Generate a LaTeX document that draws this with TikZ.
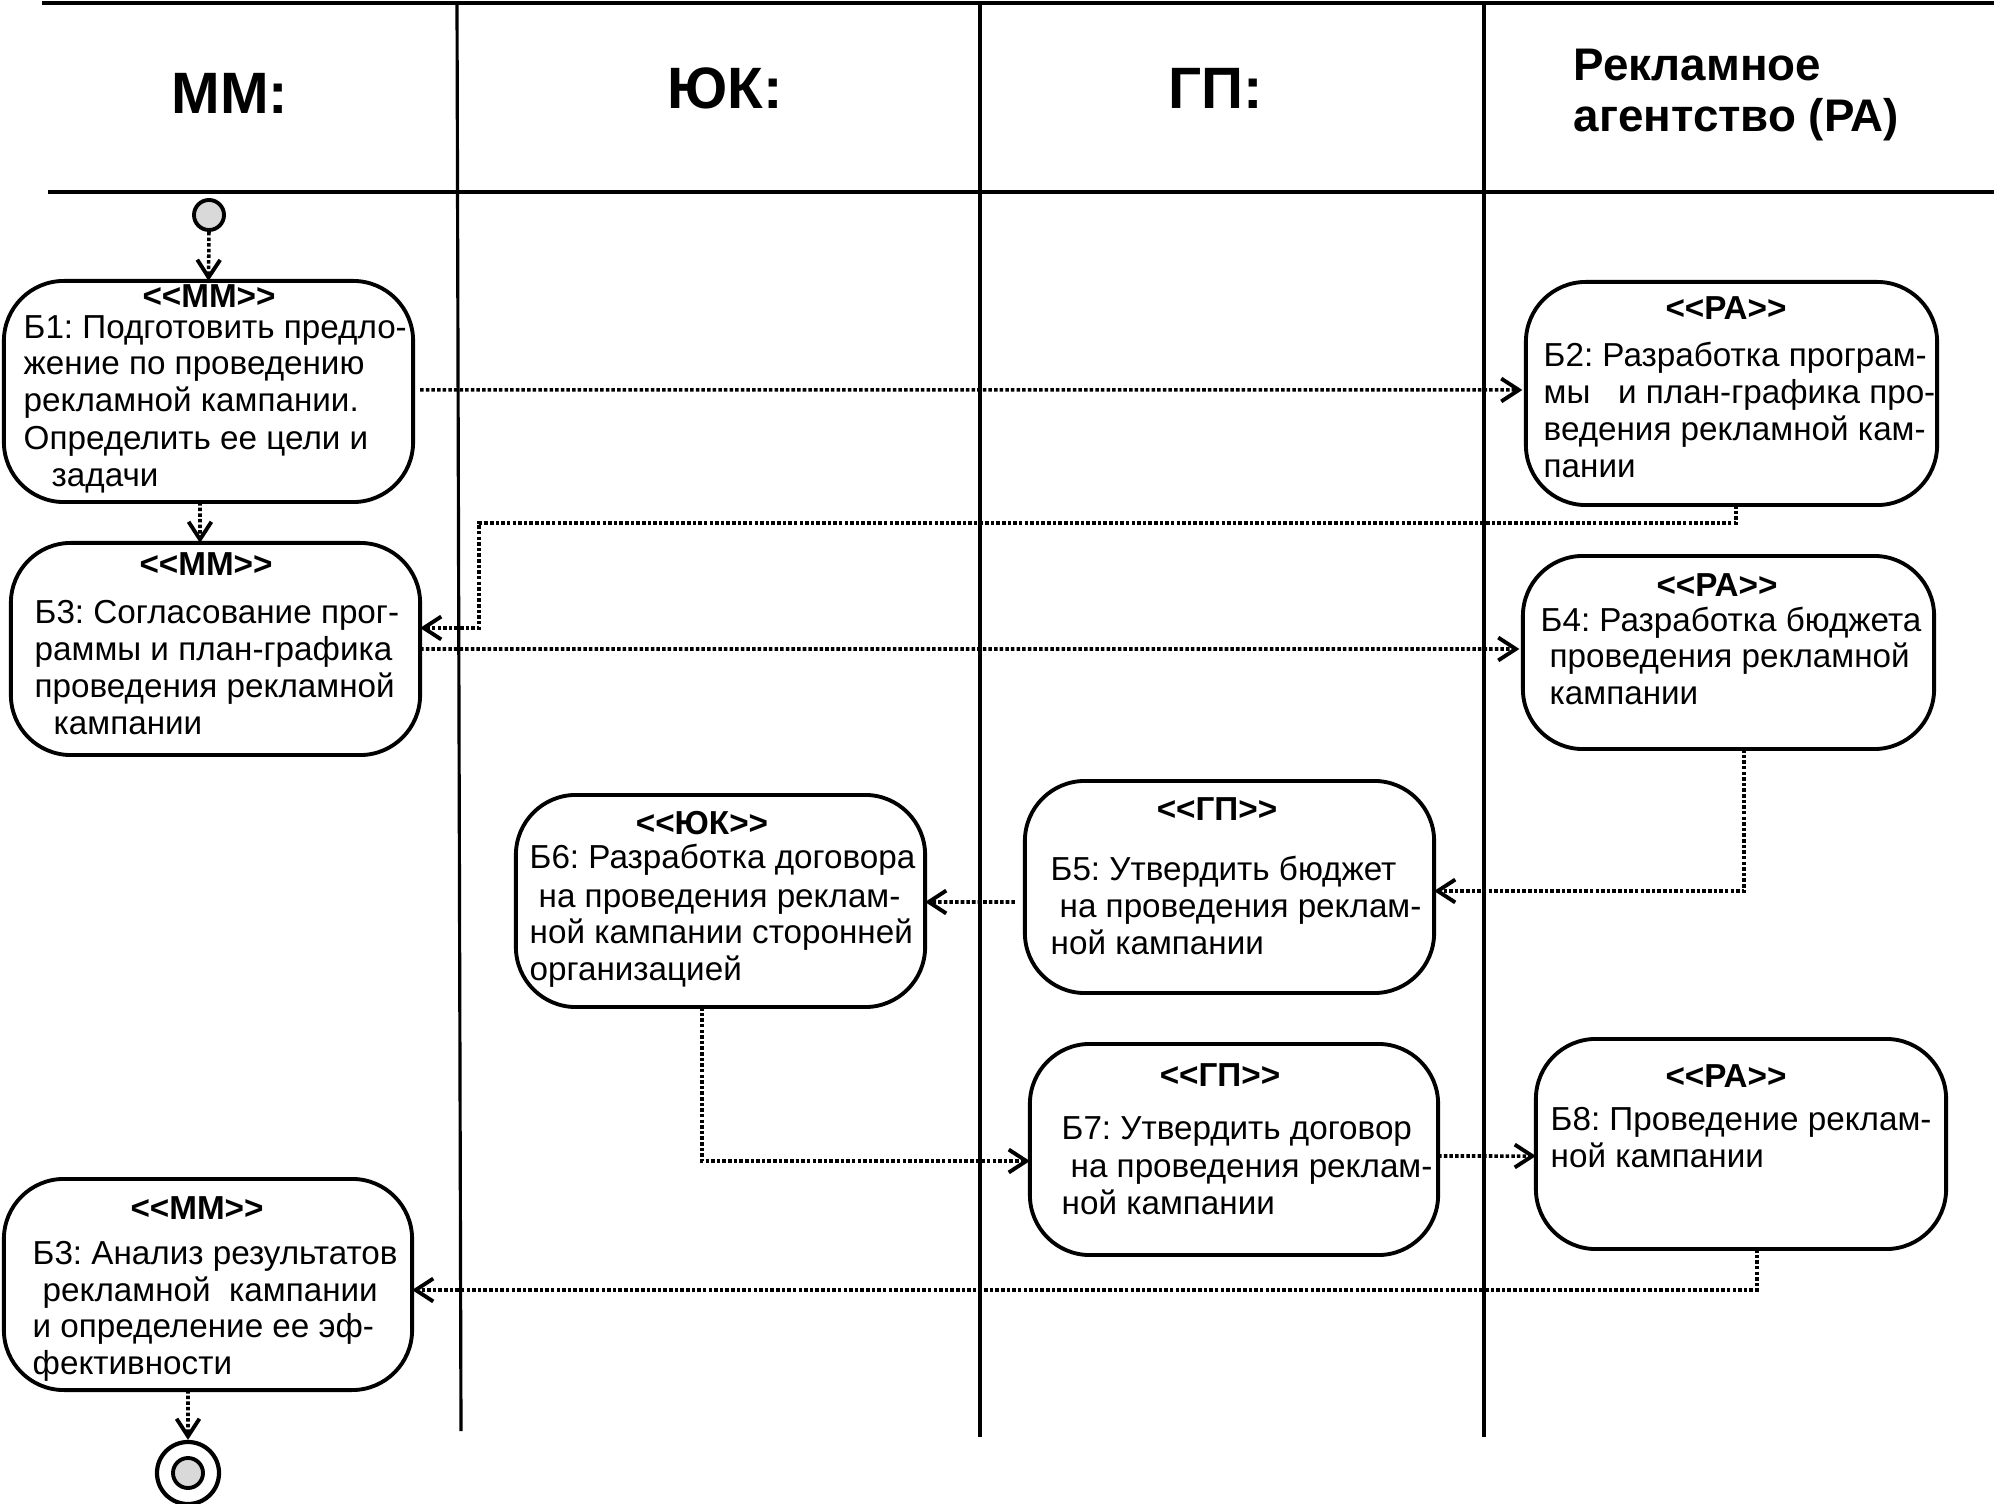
\documentclass[tikz,border=0pt]{standalone}
\usepackage{fontspec}
\newfontfamily\af{Liberation Sans}
\usetikzlibrary{arrows.meta}
\frenchspacing
\tikzset{
  box/.style={draw, line width=1.1pt, rounded corners=0.6cm, inner sep=0pt, outer sep=0pt},
  flow/.style={draw, line width=1pt, dash pattern=on 1pt off 0.6pt,
    -{Straight Barb[length=5pt,width=6.5pt,line width=1.1pt]}},
  lane/.style={line width=0.9pt},
  hline/.style={line width=1.3pt},
  tx/.style={anchor=base west, inner sep=0pt, font=\af\fontsize{9.45pt}{11pt}\selectfont},
  st/.style={anchor=base, inner sep=0pt, font=\af\bfseries\fontsize{9.45pt}{11pt}\selectfont},
  hd/.style={anchor=base, inner sep=0pt, font=\af\bfseries\fontsize{16.6pt}{19pt}\selectfont},
  hdr/.style={anchor=base west, inner sep=0pt, font=\af\bfseries\fontsize{13pt}{16pt}\selectfont},
}
\newcommand{\stt}[1]{\textless\textless#1\textgreater\textgreater}
\begin{document}
\begin{tikzpicture}[x=0.01cm, y=-0.01cm]
\useasboundingbox (0,0) rectangle (1994,1504);
% swimlane frame
\draw[hline] (42,3) -- (1994,3);
\draw[hline] (48,192) -- (1994,192);
\draw[lane] (457,3) -- (461,1431);
\draw[lane] (980,3) -- (980,1437);
\draw[lane] (1484,3) -- (1484,1437);
% headers
\node[hd] (h1) at (230,114) {ММ:};
\node[hd] (h2) at (725,109) {ЮК:};
\node[hd] (h3) at (1216,109) {ГП:};
\node[hdr] (h4a) at (1573,81) {Рекламное};
\node[hdr] (h4b) at (1573,132) {агентство (РА)};
% start / end
\node[circle, draw, line width=1.1pt, fill=black!15, minimum size=0.3cm, inner sep=0pt] (start) at (209,215) {};
\node[circle, draw, line width=1.2pt, minimum size=0.62cm, inner sep=0pt] (endc) at (188,1473) {};
\node[circle, draw, line width=1.1pt, fill=black!15, minimum size=0.3cm, inner sep=0pt] (endi) at (188,1473) {};
% boxes
\node[box, minimum width=4.09cm, minimum height=2.21cm] (b1) at (208.5,391.5) {};
\node[box, minimum width=4.11cm, minimum height=2.23cm] (b2) at (1731.5,393.5) {};
\node[box, minimum width=4.09cm, minimum height=2.12cm] (b3) at (215.5,649) {};
\node[box, minimum width=4.11cm, minimum height=1.93cm] (b4) at (1728.5,652.5) {};
\node[box, minimum width=4.09cm, minimum height=2.12cm] (b5) at (1229.5,887) {};
\node[box, minimum width=4.09cm, minimum height=2.12cm] (b6) at (720.5,901) {};
\node[box, minimum width=4.08cm, minimum height=2.11cm] (b7) at (1234,1149.5) {};
\node[box, minimum width=4.10cm, minimum height=2.10cm] (b8) at (1741,1144) {};
\node[box, minimum width=4.08cm, minimum height=2.11cm] (b9) at (208,1284.5) {};
% B1
\node[st] (s1) at (209,308) {\stt{ММ}};
\node[tx] (t1a) at (23,339) {Б1: Подготовить предло-};
\node[tx] (t1b) at (23,375) {жение по проведению};
\node[tx] (t1c) at (23,412) {рекламной кампании.};
\node[tx] (t1d) at (23,450) {Определить ее цели и};
\node[tx] (t1e) at (51,487) {задачи};
% B2
\node[st] (s2) at (1726,320) {\stt{РА}};
\node[tx] (t2a) at (1543,367) {Б2: Разработка програм-};
\node[tx] (t2b) at (1543,404) {мы\ \ \ и план-графика про-};
\node[tx] (t2c) at (1543,441) {ведения рекламной кам-};
\node[tx] (t2d) at (1543,478) {пании};
% B3
\node[st] (s3) at (206,576) {\stt{ММ}};
\node[tx] (t3a) at (34,624) {Б3: Согласование прог-};
\node[tx] (t3b) at (34,661) {раммы и план-графика};
\node[tx] (t3c) at (34,698) {проведения рекламной};
\node[tx] (t3d) at (53,735) {кампании};
% B4
\node[st] (s4) at (1717,597) {\stt{РА}};
\node[tx] (t4a) at (1540,632) {Б4: Разработка бюджета};
\node[tx] (t4b) at (1549,668) {проведения рекламной};
\node[tx] (t4c) at (1549,705) {кампании};
% B5
\node[st] (s5) at (1217,821) {\stt{ГП}};
\node[tx] (t5a) at (1050,880) {Б5: Утвердить бюджет};
\node[tx] (t5b) at (1059,918) {на проведения реклам-};
\node[tx] (t5c) at (1050,955) {ной кампании};
% B6
\node[st] (s6) at (702,835) {\stt{ЮК}};
\node[tx] (t6a) at (529,869) {Б6: Разработка договора};
\node[tx] (t6b) at (538,908) {на проведения реклам-};
\node[tx] (t6c) at (529,944) {ной кампании сторонней};
\node[tx] (t6d) at (529,981) {организацией};
% B7
\node[st] (s7) at (1220,1086) {\stt{ГП}};
\node[tx] (t7a) at (1061,1139) {Б7: Утвердить договор};
\node[tx] (t7b) at (1070,1177) {на проведения реклам-};
\node[tx] (t7c) at (1061,1214) {ной кампании};
% B8
\node[st] (s8) at (1726,1087) {\stt{РА}};
\node[tx] (t8a) at (1550,1130) {Б8: Проведение реклам-};
\node[tx] (t8b) at (1550,1167) {ной кампании};
% B9
\node[st] (s9) at (197,1219) {\stt{ММ}};
\node[tx] (t9a) at (32,1264) {Б3: Анализ результатов};
\node[tx] (t9b) at (42,1301) {рекламной\ \ кампании};
\node[tx] (t9c) at (32,1337) {и определение ее эф-};
\node[tx] (t9d) at (32,1374) {фективности};
% connectors
\coordinate (c1) at (479,523);
\draw[flow] (start.south) -- (b1.north);
\draw[flow, shorten <=0.7mm, shorten >=1pt] ([yshift=0.015cm]b1.east) -- ([yshift=0.035cm]b2.west);
\draw[flow] ([xshift=-0.085cm]b1.south) -- ([xshift=-0.155cm]b3.north);
\draw[flow] ([xshift=0.045cm]b2.south) |- (c1) |- ([yshift=0.21cm]b3.east);
\draw[flow, shorten >=1pt] (b3.east) -- ([yshift=0.035cm]b4.west);
\draw[flow] ([xshift=0.155cm]b4.south) |- ([yshift=-0.04cm]b5.east);
\draw[flow, shorten <=1mm] ([yshift=-0.15cm]b5.west) -- ([yshift=-0.01cm]b6.east);
\draw[flow] ([xshift=-0.185cm]b6.south) |- ([yshift=-0.115cm]b7.west);
\draw[flow] ([yshift=-0.065cm]b7.east) -- ([yshift=-0.12cm]b8.west);
\draw[flow] ([xshift=0.16cm]b8.south) |- ([yshift=-0.055cm]b9.east);
\draw[flow] ([xshift=-0.2cm]b9.south) -- (endc.north);
\end{tikzpicture}
\end{document}
